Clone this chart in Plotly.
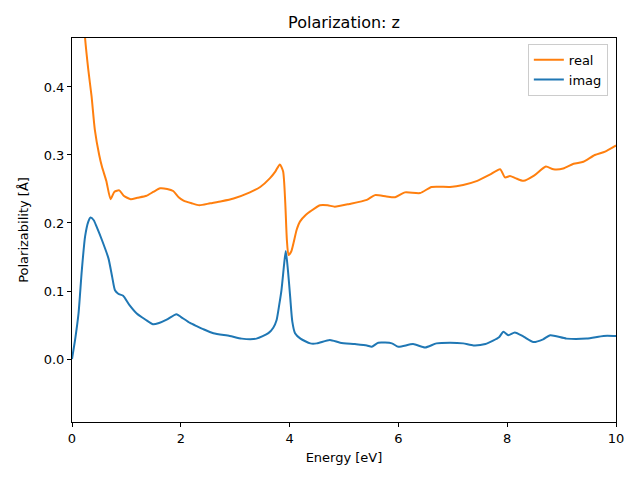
import plotly.graph_objects as go

real_x = [0.10, 0.18, 0.24, 0.30, 0.36, 0.42, 0.50, 0.55, 0.63, 0.71, 0.78, 0.87, 0.95, 1.08, 1.20, 1.37, 1.50, 1.62, 1.75, 1.86, 1.96, 2.05, 2.20, 2.34, 2.54, 2.75, 2.97, 3.27, 3.46, 3.64, 3.74, 3.82, 3.88, 3.92, 3.95, 3.98, 4.03, 4.13, 4.19, 4.30, 4.38, 4.56, 4.70, 4.83, 5.10, 5.42, 5.57, 5.78, 5.94, 6.12, 6.40, 6.61, 6.95, 7.19, 7.45, 7.68, 7.87, 7.96, 8.05, 8.15, 8.30, 8.50, 8.71, 8.85, 9.03, 9.22, 9.40, 9.61, 9.80, 9.98, 10.0]
real_y = [0.62, 0.54, 0.472, 0.425, 0.386, 0.337, 0.300, 0.283, 0.262, 0.235, 0.246, 0.248, 0.240, 0.235, 0.237, 0.240, 0.246, 0.251, 0.250, 0.247, 0.238, 0.233, 0.229, 0.226, 0.229, 0.232, 0.236, 0.245, 0.253, 0.266, 0.276, 0.286, 0.276, 0.230, 0.175, 0.153, 0.158, 0.190, 0.202, 0.212, 0.217, 0.226, 0.226, 0.224, 0.228, 0.234, 0.241, 0.239, 0.238, 0.245, 0.244, 0.253, 0.253, 0.256, 0.262, 0.271, 0.279, 0.267, 0.269, 0.266, 0.262, 0.270, 0.283, 0.279, 0.280, 0.287, 0.290, 0.300, 0.305, 0.313, 0.314]

imag_x = [0.00, 0.06, 0.12, 0.18, 0.24, 0.30, 0.34, 0.40, 0.45, 0.55, 0.67, 0.74, 0.79, 0.85, 0.94, 1.05, 1.19, 1.35, 1.49, 1.60, 1.74, 1.92, 2.00, 2.17, 2.30, 2.41, 2.60, 2.90, 3.12, 3.39, 3.61, 3.70, 3.76, 3.81, 3.85, 3.90, 3.93, 3.97, 4.01, 4.05, 4.10, 4.20, 4.38, 4.50, 4.74, 4.93, 5.20, 5.42, 5.51, 5.63, 5.88, 6.00, 6.27, 6.49, 6.70, 6.95, 7.19, 7.38, 7.60, 7.74, 7.85, 7.93, 8.02, 8.14, 8.30, 8.48, 8.66, 8.79, 9.09, 9.46, 9.77, 9.98, 10.0]
imag_y = [0.000, 0.030, 0.067, 0.130, 0.180, 0.202, 0.208, 0.204, 0.195, 0.175, 0.148, 0.120, 0.101, 0.096, 0.093, 0.080, 0.067, 0.058, 0.051, 0.053, 0.058, 0.066, 0.062, 0.053, 0.048, 0.044, 0.038, 0.034, 0.030, 0.030, 0.038, 0.046, 0.057, 0.080, 0.101, 0.140, 0.159, 0.130, 0.092, 0.055, 0.038, 0.030, 0.023, 0.023, 0.028, 0.024, 0.022, 0.020, 0.018, 0.024, 0.023, 0.018, 0.022, 0.017, 0.023, 0.024, 0.023, 0.020, 0.022, 0.027, 0.032, 0.040, 0.035, 0.039, 0.033, 0.025, 0.029, 0.035, 0.030, 0.030, 0.034, 0.034, 0.034]

x_ticks = [0, 2, 4, 6, 8, 10]
y_ticks = [0.0, 0.1, 0.2, 0.3, 0.4]

FONT = "DejaVu Sans"

fig = go.Figure()
fig.add_trace(go.Scatter(x=real_x, y=real_y, mode="lines", name="real",
                         line=dict(color="#ff7f0e", width=2, shape="spline", smoothing=0.6)))
fig.add_trace(go.Scatter(x=imag_x, y=imag_y, mode="lines", name="imag",
                         line=dict(color="#1f77b4", width=2, shape="spline", smoothing=0.6)))

axis_common = dict(showgrid=False, zeroline=False, showline=True, linecolor="black", linewidth=1,
                   mirror=True, ticks="outside", ticklen=4, tickwidth=1, tickcolor="black",
                   tickfont=dict(family=FONT, size=13, color="black"))

fig.update_layout(
    width=640, height=480,
    margin=dict(l=64, r=32, t=30, b=66, autoexpand=False),
    paper_bgcolor="white", plot_bgcolor="white",
    font=dict(family=FONT, color="black"),
    title=dict(text="Polarization: z", x=0.525, xanchor="center", y=0.969, yanchor="middle",
               font=dict(family=FONT, size=16, color="black")),
    xaxis=dict(range=[0, 10], tickvals=x_ticks, ticktext=[str(v) for v in x_ticks],
               title=dict(text="Energy [eV]", font=dict(family=FONT, size=13), standoff=8),
               **axis_common),
    yaxis=dict(range=[-0.0926, 0.472], tickvals=y_ticks, ticktext=[f"{v:.1f}" for v in y_ticks],
               title=dict(text="Polarizability [Å]", font=dict(family=FONT, size=13), standoff=12),
               **axis_common),
    legend=dict(x=0.985, y=0.985, xanchor="right", yanchor="top", bgcolor="rgba(255,255,255,0.8)",
                bordercolor="#cccccc", borderwidth=1, font=dict(family=FONT, size=13),
                itemwidth=30, tracegroupgap=0),
    showlegend=True,
)

fig.write_html("out.html")
